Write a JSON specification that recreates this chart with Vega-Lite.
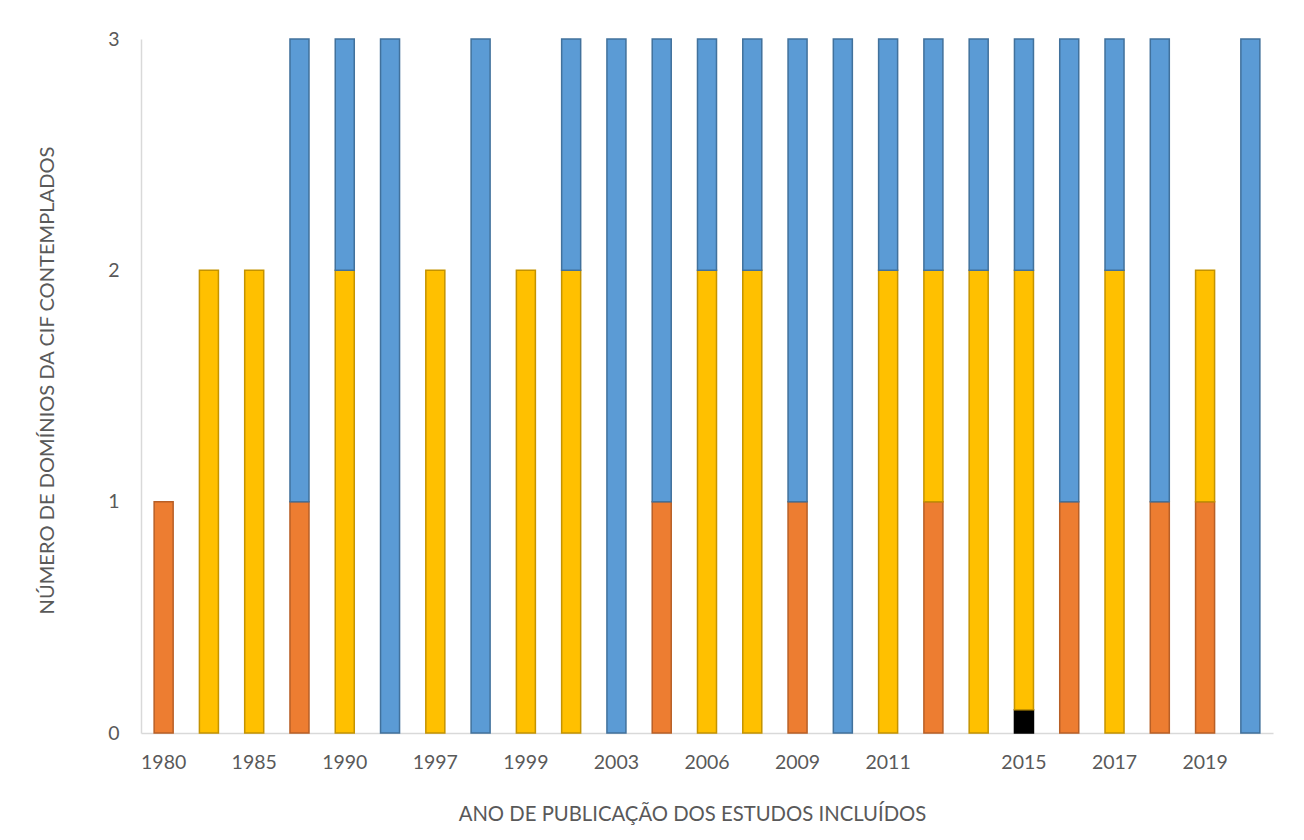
{
  "$schema": "https://vega.github.io/schema/vega-lite/v6.json",
  "width": 1132,
  "height": 694,
  "autosize": "none",
  "padding": {"left": 141, "top": 39, "right": 31, "bottom": 107},
  "background": "white",
  "config": {
    "view": {"stroke": null},
    "font": "Lato"
  },
  "data": {
    "values": [
      {"estudo": 1, "serie": "Série 1", "ordem": 1, "valor": 1},
      {"estudo": 2, "serie": "Série 2", "ordem": 2, "valor": 2},
      {"estudo": 3, "serie": "Série 2", "ordem": 2, "valor": 2},
      {"estudo": 4, "serie": "Série 1", "ordem": 1, "valor": 1},
      {"estudo": 4, "serie": "Série 3", "ordem": 3, "valor": 2},
      {"estudo": 5, "serie": "Série 2", "ordem": 2, "valor": 2},
      {"estudo": 5, "serie": "Série 3", "ordem": 3, "valor": 1},
      {"estudo": 6, "serie": "Série 3", "ordem": 3, "valor": 3},
      {"estudo": 7, "serie": "Série 2", "ordem": 2, "valor": 2},
      {"estudo": 8, "serie": "Série 3", "ordem": 3, "valor": 3},
      {"estudo": 9, "serie": "Série 2", "ordem": 2, "valor": 2},
      {"estudo": 10, "serie": "Série 2", "ordem": 2, "valor": 2},
      {"estudo": 10, "serie": "Série 3", "ordem": 3, "valor": 1},
      {"estudo": 11, "serie": "Série 3", "ordem": 3, "valor": 3},
      {"estudo": 12, "serie": "Série 1", "ordem": 1, "valor": 1},
      {"estudo": 12, "serie": "Série 3", "ordem": 3, "valor": 2},
      {"estudo": 13, "serie": "Série 2", "ordem": 2, "valor": 2},
      {"estudo": 13, "serie": "Série 3", "ordem": 3, "valor": 1},
      {"estudo": 14, "serie": "Série 2", "ordem": 2, "valor": 2},
      {"estudo": 14, "serie": "Série 3", "ordem": 3, "valor": 1},
      {"estudo": 15, "serie": "Série 1", "ordem": 1, "valor": 1},
      {"estudo": 15, "serie": "Série 3", "ordem": 3, "valor": 2},
      {"estudo": 16, "serie": "Série 3", "ordem": 3, "valor": 3},
      {"estudo": 17, "serie": "Série 2", "ordem": 2, "valor": 2},
      {"estudo": 17, "serie": "Série 3", "ordem": 3, "valor": 1},
      {"estudo": 18, "serie": "Série 1", "ordem": 1, "valor": 1},
      {"estudo": 18, "serie": "Série 2", "ordem": 2, "valor": 1},
      {"estudo": 18, "serie": "Série 3", "ordem": 3, "valor": 1},
      {"estudo": 19, "serie": "Série 2", "ordem": 2, "valor": 2},
      {"estudo": 19, "serie": "Série 3", "ordem": 3, "valor": 1},
      {"estudo": 20, "serie": "Marcador", "ordem": 0, "valor": 0.1},
      {"estudo": 20, "serie": "Série 2", "ordem": 2, "valor": 1.9},
      {"estudo": 20, "serie": "Série 3", "ordem": 3, "valor": 1},
      {"estudo": 21, "serie": "Série 1", "ordem": 1, "valor": 1},
      {"estudo": 21, "serie": "Série 3", "ordem": 3, "valor": 2},
      {"estudo": 22, "serie": "Série 2", "ordem": 2, "valor": 2},
      {"estudo": 22, "serie": "Série 3", "ordem": 3, "valor": 1},
      {"estudo": 23, "serie": "Série 1", "ordem": 1, "valor": 1},
      {"estudo": 23, "serie": "Série 3", "ordem": 3, "valor": 2},
      {"estudo": 24, "serie": "Série 1", "ordem": 1, "valor": 1},
      {"estudo": 24, "serie": "Série 2", "ordem": 2, "valor": 1},
      {"estudo": 25, "serie": "Série 3", "ordem": 3, "valor": 3}
    ]
  },
  "mark": {"type": "bar", "strokeWidth": 1.5, "strokeOpacity": 1},
  "encoding": {
    "x": {
      "field": "estudo",
      "type": "ordinal",
      "sort": "ascending",
      "scale": {"paddingInner": 0.58, "paddingOuter": 0.29},
      "axis": {
        "title": "ANO DE PUBLICAÇÃO DOS ESTUDOS INCLUÍDOS",
        "titleFont": "Lato",
        "titleFontSize": 20.3,
        "titleFontWeight": "normal",
        "titleColor": "#595959",
        "titlePadding": 33,
        "titleX": 551,
        "titleAlign": "center",
        "labelExpr": "['1980','','1985','','1990','','1997','','1999','','2003','','2006','','2009','','2011','','','2015','','2017','','2019',''][datum.value - 1]",
        "labelAngle": 0,
        "labelFont": "Lato",
        "labelFontSize": 19.5,
        "labelColor": "#595959",
        "labelPadding": 20,
        "ticks": false,
        "domainColor": "#d9d9d9",
        "domainWidth": 1.5,
        "grid": false
      }
    },
    "y": {
      "field": "valor",
      "type": "quantitative",
      "stack": "zero",
      "scale": {"domain": [0, 3], "nice": false},
      "axis": {
        "title": "NÚMERO DE DOMÍNIOS DA CIF CONTEMPLADOS",
        "titleFont": "Lato",
        "titleFontSize": 20.1,
        "titleFontWeight": "normal",
        "titleColor": "#595959",
        "titlePadding": 50,
        "titleY": 341,
        "titleAlign": "center",
        "values": [0, 1, 2, 3],
        "format": "d",
        "labelFont": "Lato",
        "labelFontSize": 19.5,
        "labelColor": "#595959",
        "labelPadding": 22,
        "ticks": false,
        "grid": false,
        "domainColor": "#d9d9d9",
        "domainWidth": 1.5
      }
    },
    "color": {
      "field": "serie",
      "type": "nominal",
      "scale": {
        "domain": ["Marcador", "Série 1", "Série 2", "Série 3"],
        "range": ["#000000", "#ED7D31", "#FFC000", "#5B9BD5"]
      },
      "legend": null
    },
    "stroke": {
      "field": "serie",
      "type": "nominal",
      "scale": {
        "domain": ["Marcador", "Série 1", "Série 2", "Série 3"],
        "range": ["#000000", "#B85F26", "#C49300", "#41719C"]
      },
      "legend": null
    },
    "order": {"field": "ordem", "type": "quantitative"}
  }
}
